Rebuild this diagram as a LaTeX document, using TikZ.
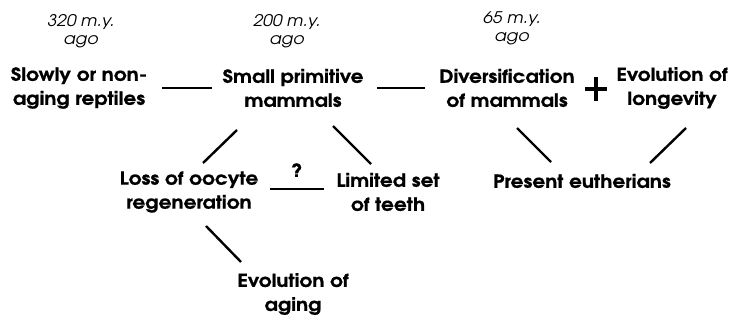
\documentclass[tikz,border=0pt]{standalone}
\usepackage{fontspec}
\setmainfont{TeX Gyre Adventor}[FakeStretch=1.12, BoldFeatures={FakeBold=0.8}]
\newfontfamily\erafont{TeX Gyre Adventor}[FakeStretch=1.08]
\begin{document}
\begin{tikzpicture}[x=1pt, y=-1pt,
    era/.style={font=\erafont\fontsize{16}{18}\selectfont\itshape, align=center, inner sep=0pt},
    stage/.style={font=\fontsize{18}{24}\selectfont\bfseries, align=center, inner sep=0pt},
    link/.style={line width=2.4pt}]
  \useasboundingbox (0,0) rectangle (742,320);
  % Time marks
  \node[era] (t320) at (81,31) {320 m.y.\\ago};
  \node[era] (t200) at (287,31) {200 m.y.\\ago};
  \node[era] (t65) at (512,28) {65 m.y.\\ago};

  % Top row
  \node[stage] (reptiles) at (79,88) {Slowly or non-\\aging reptiles};
  \node[stage] (small) at (293,88) {Small primitive\\mammals};
  \node[stage] (divers) at (507,88) {Diversification\\of mammals};
  \node[stage] (longev) at (672,88) {Evolution of\\longevity};

  % Lower rows
  \node[stage] (loss) at (189,192) {Loss of oocyte\\regeneration};
  \node[stage] (teeth) at (388,192) {Limited set\\of teeth};
  \node[stage] (present) at (582,181) {Present eutherians};
  \node[stage] (aging) at (293,294) {Evolution of\\aging};
  \node[stage] (query) at (297,170) {?};

  % Horizontal links
  \coordinate (r1) at (162,88); \coordinate (s0) at (212,88);
  \coordinate (s3) at (377,88); \coordinate (d0) at (425,88);
  \coordinate (l3) at (270,189); \coordinate (t3) at (324,189);
  \draw[link] (r1) -- (s0);
  \draw[link] (s3) -- (d0);
  \draw[link] (l3) -- (t3);

  % Plus sign
  \coordinate (plus) at (596,89);
  \draw[line width=3.6pt] ([xshift=-11pt]plus) -- ([xshift=11pt]plus);
  \draw[line width=3.6pt] ([yshift=-12pt]plus) -- ([yshift=12pt]plus);

  % Diagonal links
  \coordinate (s1) at (237,130); \coordinate (l1) at (203,163);
  \coordinate (s2) at (333,126); \coordinate (t2) at (371,164);
  \coordinate (d1) at (517,128); \coordinate (p1) at (551,162);
  \coordinate (e1) at (686,128); \coordinate (p2) at (650,163);
  \coordinate (l2) at (206,226); \coordinate (a1) at (241,262);
  \draw[link] (s1) -- (l1);
  \draw[link] (s2) -- (t2);
  \draw[link] (d1) -- (p1);
  \draw[link] (e1) -- (p2);
  \draw[link] (l2) -- (a1);
\end{tikzpicture}
\end{document}
